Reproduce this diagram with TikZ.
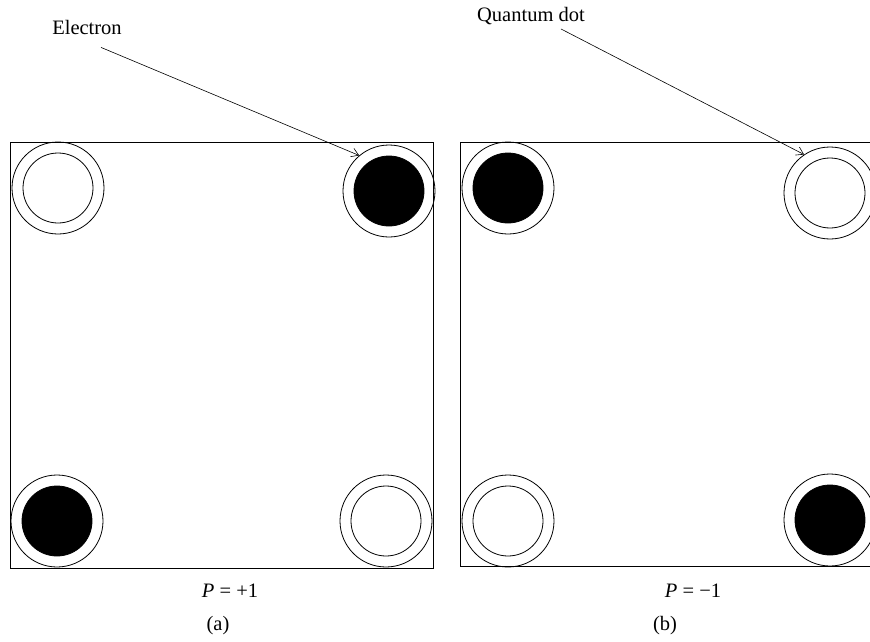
\documentclass[tikz,border=0pt]{standalone}
\usepackage{fontspec}
\setmainfont{Liberation Serif}
\usetikzlibrary{arrows.meta, positioning}
\tikzset{
  %% ── Dots ─────────────────────────────────────────────────────────────
  %% A quantum dot is a ring; the site inside it is either empty or holds
  %% an electron, drawn as a solid disc.
  anneau/.style     = {draw, circle, line width=0.8pt, minimum size=92pt,
                       inner sep=0pt},
  site/.style       = {draw, circle, line width=0.8pt, minimum size=70pt,
                       inner sep=0pt},
  electronPlein/.style = {site, fill=black},
  %%
  %% ── Cells and arrows ─────────────────────────────────────────────────
  cellule/.style    = {draw, line width=0.8pt},
  fleche/.style     = {-{Straight Barb[length=7pt, width=9pt]}, line width=0.6pt},
  %%
  %% ── Text ─────────────────────────────────────────────────────────────
  etiquette/.style  = {font=\fontsize{20.5}{24}\selectfont, inner sep=1pt},
}

\begin{document}
\begin{tikzpicture}[x=1pt, y=-1pt]
\clip (0,0) rectangle (870,642);

%% cell (a): P = +1
\draw[cellule] (10,142) rectangle (433,568);
\node[anneau] (qdA1) at (58,188) {};
\node[site] at (qdA1) {};
\node[anneau] (qdA2) at (389,191) {};
\node[electronPlein] at (qdA2) {};
\node[anneau] (qdA3) at (57,521) {};
\node[electronPlein] at (qdA3) {};
\node[anneau] (qdA4) at (386,521) {};
\node[site] at (qdA4) {};

%% cell (b): P = -1, cut by the right margin
\draw[cellule] (460,142) rectangle (900,566);
\node[anneau] (qdB1) at (508,188) {};
\node[electronPlein] at (qdB1) {};
\node[anneau] (qdB2) at (830,193) {};
\node[site] at (qdB2) {};
\node[anneau] (qdB3) at (508,521) {};
\node[site] at (qdB3) {};
\node[anneau] (qdB4) at (830,520) {};
\node[electronPlein] at (qdB4) {};

%% labels
\node[etiquette] (lblElectron) at (87,27) {Electron};
\node[etiquette] (lblDot) at (531,16) {Quantum dot};
\draw[fleche] ([xshift=14pt,yshift=-12pt]lblElectron.south) -- (qdA2.130);
\draw[fleche] ([xshift=30pt,yshift=-3pt]lblDot.south) -- (qdB2.124);

\node[etiquette] (polA) at (230,591) {\textit{P} = +1};
\node[etiquette] (capA) at (218,626) {(a)};
\node[etiquette] (polB) at (693,591) {\textit{P} = −1};
\node[etiquette] (capB) at (665,626) {(b)};

\end{tikzpicture}
\end{document}
